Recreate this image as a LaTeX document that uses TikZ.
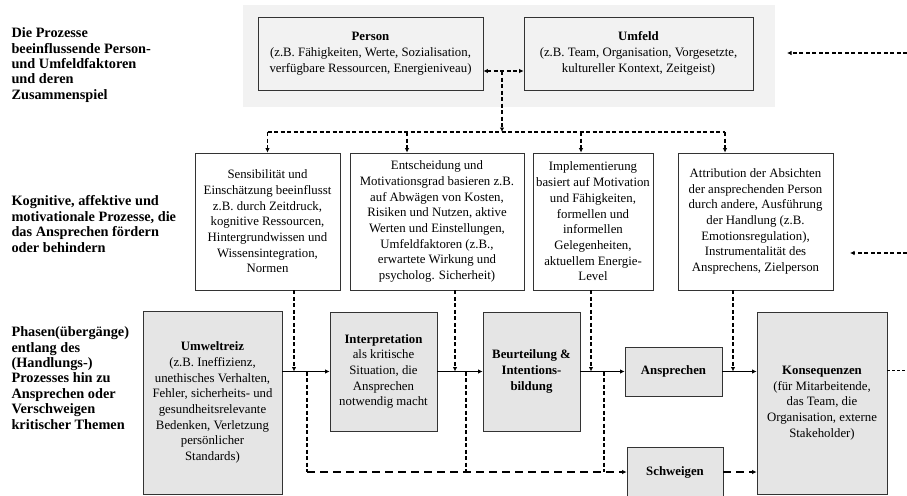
\documentclass[tikz,border=0pt]{standalone}
\usepackage{fontspec}
\setmainfont{Liberation Serif}
\usetikzlibrary{arrows.meta}
\begin{document}
\begin{tikzpicture}[x=1pt,y=-1pt,
    >={Latex[length=4.5pt,width=4.5pt]},
    box/.style={draw=black!80,line width=0.8pt,fill=#1,align=center,inner sep=1pt,
      font=\fontsize{12.8}{15.7}\selectfont},
    box/.default=white,
    lbl/.style={anchor=west,align=left,font=\fontsize{14.3}{15.4}\selectfont\bfseries},
    flow/.style={line width=1.6pt,->},
    infl/.style={line width=1.3pt,dash pattern=on 4pt off 2.5pt},
    silent/.style={line width=1.5pt,dash pattern=on 8pt off 5pt}]
      \useasboundingbox (0,0) rectangle (907,495);
      \fill[gray!10] (243,5) rectangle (775,107);
      \draw
        (8,65) node[lbl] (factors) {Die Prozesse\\beeinflussende Person-\\und Umfeldfaktoren\\und deren\\Zusammenspiel}
        (8,224) node[lbl] (processes) {Kognitive, affektive und\\motivationale Prozesse, die\\das Ansprechen fördern\\oder behindern}
        (8,378) node[lbl] (phases) {Phasen(übergänge)\\entlang des\\(Handlungs-)\\Prozesses hin zu\\Ansprechen oder\\Verschweigen\\kritischer Themen}
        (370.5,53.5) node[box=gray!10,minimum width=225pt,minimum height=73pt] (person)
          {\textbf{Person}\\(z.B. Fähigkeiten, Werte, Sozialisation,\\verfügbare Ressourcen, Energieniveau)}
        (638.5,53.5) node[box=gray!10,minimum width=229pt,minimum height=73pt] (umfeld)
          {\textbf{Umfeld}\\(z.B. Team, Organisation, Vorgesetzte,\\kultureller Kontext, Zeitgeist)}
        (267.5,221.5) node[box,minimum width=145pt,minimum height=137pt] (sens)
          {Sensibilität und\\Einschätzung beeinflusst\\z.B. durch Zeitdruck,\\kognitive Ressourcen,\\Hintergrundwissen und\\Wissensintegration,\\Normen}
        (437,221.5) node[box,minimum width=174pt,minimum height=137pt] (entsch)
          {Entscheidung und\\Motivationsgrad basieren z.B.\\auf Abwägen von Kosten,\\Risiken und Nutzen, aktive\\Werten und Einstellungen,\\Umfeldfaktoren (z.B.,\\erwartete Wirkung und\\psycholog. Sicherheit)}
        (593,221.5) node[box,minimum width=120pt,minimum height=137pt] (impl)
          {Implementierung\\basiert auf Motivation\\und Fähigkeiten,\\formellen und\\informellen\\Gelegenheiten,\\aktuellem Energie-\\Level}
        (755.5,221.5) node[box,minimum width=155pt,minimum height=137pt] (attr)
          {Attribution der Absichten\\der ansprechenden Person\\durch andere, Ausführung\\der Handlung (z.B.\\Emotionsregulation),\\Instrumentalität des\\Ansprechens, Zielperson}
        (212.5,402.5) node[box=gray!20,minimum width=139pt,minimum height=183pt] (umwelt)
          {\textbf{Umweltreiz}\\(z.B. Ineffizienz,\\unethisches Verhalten,\\Fehler, sicherheits- und\\gesundheitsrelevante\\Bedenken, Verletzung\\persönlicher\\Standards)}
        (383.5,371.5) node[box=gray!20,minimum width=107pt,minimum height=119pt] (interp)
          {\textbf{Interpretation}\\als kritische\\Situation, die\\Ansprechen\\notwendig macht}
        (531.5,371.5) node[box=gray!20,minimum width=97pt,minimum height=119pt] (beurt)
          {\textbf{Beurteilung \&}\\\textbf{Intentions-}\\\textbf{bildung}}
        (673.5,371.5) node[box=gray!20,minimum width=97pt,minimum height=49pt] (ansp)
          {\textbf{Ansprechen}}
        (675,472) node[box=gray!20,minimum width=96pt,minimum height=50pt] (schw)
          {\textbf{Schweigen}}
        (822,403) node[box=gray!20,minimum width=130pt,minimum height=182pt] (kons)
          {\textbf{Konsequenzen}\\(für Mitarbeitende,\\das Team, die\\Organisation, externe\\Stakeholder)};
      \path
        (502,71) coordinate (pu)
        (502,132) coordinate (t0)
        (267.5,132) coordinate (a1)
        (407,132) coordinate (a2)
        (581,132) coordinate (a3)
        (725,132) coordinate (a4)
        (294,371.5) coordinate (j1)
        (455,371.5) coordinate (j2)
        (591,371.5) coordinate (j3)
        (733,371.5) coordinate (j4)
        (307,371.5) coordinate (b1)
        (466,371.5) coordinate (b2)
        (604,371.5) coordinate (b3)
        (787,53) coordinate (r1)
        (907,53) coordinate (r1e)
        (850,253) coordinate (r2)
        (907,253) coordinate (r2e)
        (907,370) coordinate (r3);
      \begin{scope}[flow]
        \draw (umwelt.east |- interp.west) to (interp.west);
        \draw (interp.east) to (beurt.west);
        \draw (beurt.east) to (ansp.west);
        \draw (ansp.east) to (kons.west |- ansp.east);
      \end{scope}
      \begin{scope}[infl]
        \draw[<->] (person.east |- pu) to (umfeld.west |- pu);
        \draw[->] (pu) to (t0);
        \draw (a1) to (a4);
        \draw[->] (a1) to (sens.north);
        \draw[->] (a2) to (a2 |- entsch.north);
        \draw[->] (a3) to (a3 |- impl.north);
        \draw[->] (a4) to (a4 |- attr.north);
        \draw[->] (sens.south -| j1) to (j1);
        \draw[->] (entsch.south -| j2) to (j2);
        \draw[->] (impl.south -| j3) to (j3);
        \draw[->] (attr.south -| j4) to (j4);
        \draw (b1) to (b1 |- schw.west);
        \draw (b2) to (b2 |- schw.west);
        \draw (b3) to (b3 |- schw.west);
        \draw[->] (r1e) to (r1);
        \draw[->] (r2e) to (r2);
      \end{scope}
      \begin{scope}[silent]
        \draw[->] (b1 |- schw.west) to (schw.west);
        \draw[->] (schw.east) to (kons.west |- schw.east);
      \end{scope}
      \draw[line width=0.7pt,dash pattern=on 3pt off 2pt] (kons.east |- r3) to (r3);
    \end{tikzpicture}
\end{document}
